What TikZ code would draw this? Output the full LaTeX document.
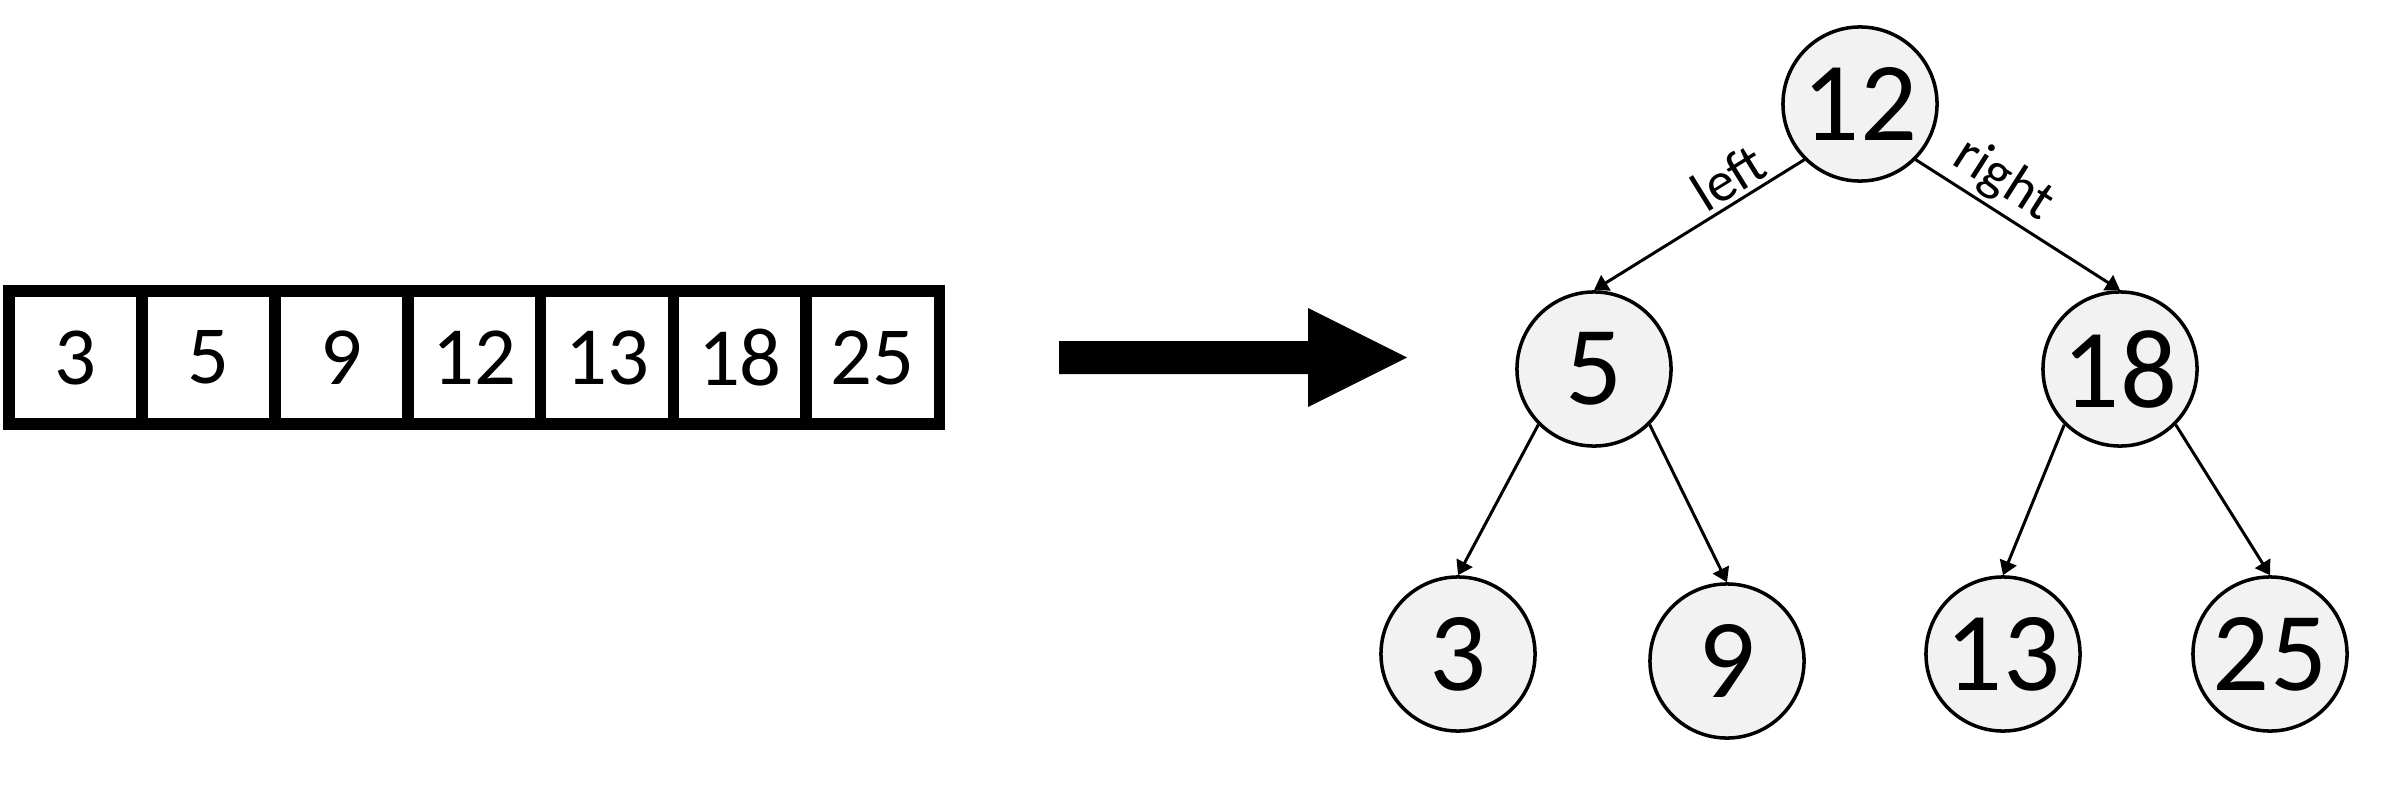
\documentclass[tikz,border=0pt]{standalone}
\usepackage{fontspec}
\setmainfont{Carlito}
\usepackage{tikz}
\usetikzlibrary{arrows.meta,positioning}
\definecolor{nodegray}{HTML}{F2F2F2}

\begin{document}
\begin{tikzpicture}[x=0.01cm,y=-0.01cm,>={Triangle[length=4pt,width=5pt]},
  line width=0.85pt]
  \tikzstyle{cell}=[draw, line width=3.3pt, minimum size=1.33cm, inner sep=0pt,
    font=\fontsize{23.5}{28}\selectfont]
  \tikzstyle{knot}=[circle, draw, fill=nodegray, line width=1pt,
    minimum size=1.54cm, inner sep=0pt, font=\fontsize{32}{38}\selectfont]
  \tikzstyle{tag}=[sloped, above, inner sep=1.2pt, font=\fontsize{16}{19}\selectfont]

  \useasboundingbox (0,0) rectangle (2396,797);

  % sorted array
  \foreach \v [count=\i] in {3,5,9,12,13,18,25}
    \node[cell] (a\i) at (-57.5+132.9*\i,357.5) {\v};

  % big arrow
  \fill (1059,341) -- (1308,341) -- (1308,308) -- (1407,357.5)
    -- (1308,407) -- (1308,374) -- (1059,374) -- cycle;

  % tree
  \node[knot] (r)   at (1860,104) {12};
  \node[knot] (n5)  at (1594,369) {5};
  \node[knot] (n18) at (2120,369) {18};
  \node[knot] (n3)  at (1458,654) {3};
  \node[knot] (n9)  at (1727,661) {9};
  \node[knot] (n13) at (2003,654) {13};
  \node[knot] (n25) at (2270,654) {25};

  \path[->]
  (r.225)   edge node[tag,pos=0.3]  {left}  (n5.north)
  (r.-45)   edge node[tag,pos=0.35] {right} (n18.north)
  (n5.225)  edge (n3.north)
  (n5.-45)  edge (n9.north)
  (n18.225) edge (n13.north)
  (n18.-45) edge (n25.north)
  ;
\end{tikzpicture}
\end{document}
